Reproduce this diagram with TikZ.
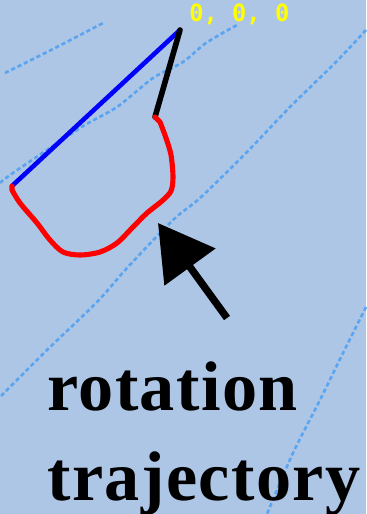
\documentclass[tikz,border=0pt]{standalone}
\usepackage{fontspec}
\usetikzlibrary{arrows.meta}
\newfontfamily\rotulofont[LetterSpace=2]{Liberation Serif}
\newfontfamily\ejesfont{DejaVu Sans Mono}
\definecolor{colFondo}{HTML}{AEC6E6}
\definecolor{colGuia}{HTML}{5AA4F0}
\definecolor{colEjes}{HTML}{FFFF00}

\begin{document}
\begin{tikzpicture}[x=0.02cm, y=-0.02cm,
        guia/.style={colGuia, line width=1.5pt, dash pattern=on 2.4pt off 1.6pt},
        tramo/.style={line width=2.6pt, line cap=round, line join=round},
        flechaGrande/.style={-{Triangle[length=31pt, width=35pt]}, line width=4.2pt},
        rotulo/.style={font=\rotulofont\bfseries\fontsize{40}{48}\selectfont, inner sep=0pt, anchor=base west},
        ejes/.style={font=\ejesfont\bfseries\fontsize{13.5}{15}\selectfont, text=colEjes, inner sep=0pt, anchor=north west}
    ]
        \useasboundingbox (0,0) rectangle (366,514);
        \fill[colFondo] (0,0) rectangle (366,514);

        % lineas guia punteadas
        \draw[guia] plot[smooth] coordinates {(5,73) (55,48) (105,22)};
        \draw[guia] plot[smooth] coordinates {(0,183) (13,173) (80,128) (117,107) (153,78) (183,62) (206,43) (237,25)};
        \draw[guia] plot[smooth] coordinates {(366,30) (336,62) (290,107) (246,153) (200,198) (173,220) (127,268) (97,302) (47,350) (0,397)};
        \draw[guia] plot[smooth] coordinates {(366,307) (343,353) (320,400) (293,453) (267,514)};

        \coordinate (vertice) at (180,30);
        \coordinate (quiebre) at (155,117);
        \coordinate (extremo) at (12,186);

        \draw[tramo, blue] (vertice) -- (extremo);
        \draw[tramo, black, line width=3.2pt] (vertice) -- (quiebre);
        \draw[tramo, red, line width=2.9pt] (quiebre) -- (160,122) plot[smooth, tension=0.5] coordinates {(160,122) (166,138) (171,155) (173,177) (171,191) (162,201) (147,213) (133,227) (117,243) (100,252) (80,255) (63,252) (50,240) (37,223) (20,203) (12,190)} -- (extremo);

        \node[ejes] (origen) at (189,4) {0, 0, 0};

        \coordinate (colaFlecha) at (227,318);
        \coordinate (puntaFlecha) at (158,223);
        \draw[flechaGrande] (colaFlecha) -- (puntaFlecha);

        \node[rotulo] (rotacion) at (47,410) {rotation};
        \node[rotulo] (trayectoria) at (47,500) {trajectory};
    \end{tikzpicture}
\end{document}
